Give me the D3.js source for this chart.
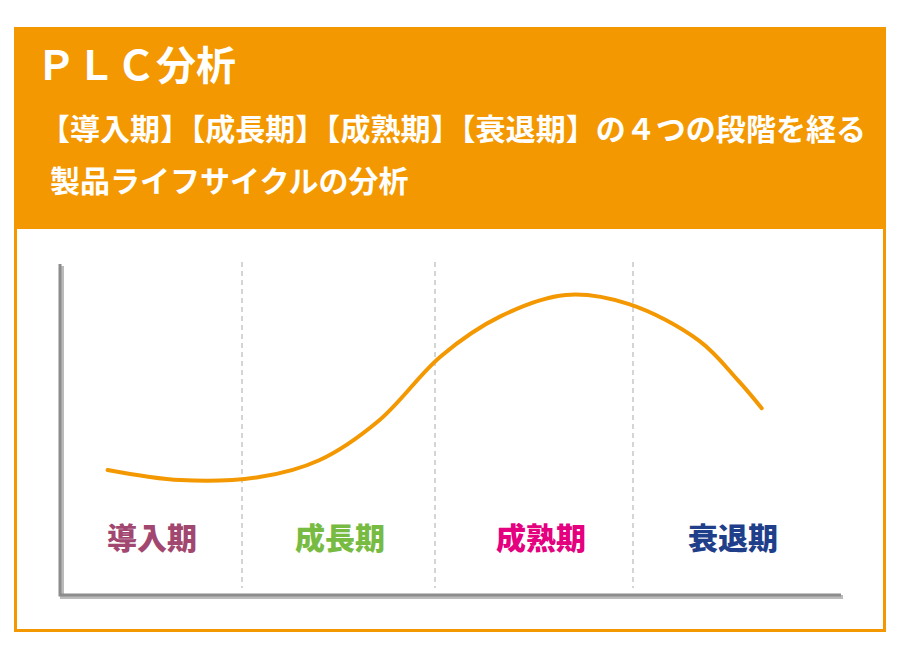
<!DOCTYPE html><html><head><meta charset="utf-8"><script src="https://cdn.jsdelivr.net/npm/d3@7"></script>
<style>body{margin:0;background:#fff}</style></head><body><svg id="c" width="900" height="650"></svg>
<script>
const title = "ＰＬＣ分析";
const subtitle1 = "【導入期】【成長期】【成熟期】【衰退期】の４つの段階を経る";
const subtitle2 = "製品ライフサイクルの分析";
const stages = ["導入期","成長期","成熟期","衰退期"];
const stageColors = ["#a2476f","#78bb42","#e4007f","#1f3f8a"];
const curveT = [0.30,0.68,1.09,1.4,1.71,2.03,2.33,2.66,2.98,3.34,3.54,3.66];
const curveV = [9.8,6.5,7.5,13,26,47,60,67,64,52,39,30];

const svg = d3.select("#c");
const F = "'Noto Sans CJK JP', sans-serif";
const orange = "#f39800";
svg.append("rect").attr("x",15.5).attr("y",28.5).attr("width",869).attr("height",602).attr("fill","#fff").attr("stroke",orange).attr("stroke-width",3);
svg.append("rect").attr("x",14).attr("y",27).attr("width",872).attr("height",202).attr("fill",orange);
svg.append("text").attr("x",36).attr("y",80).attr("fill","#fff").attr("font-family",F).attr("font-weight",700).attr("font-size",40).text(title);
svg.append("text").attr("x",40).attr("y",140).attr("fill","#fff").attr("font-family",F).attr("font-weight",700).attr("font-size",30).attr("textLength",826).text(subtitle1);
svg.append("text").attr("x",50).attr("y",192).attr("fill","#fff").attr("font-family",F).attr("font-weight",700).attr("font-size",30).text(subtitle2);

const y = d3.scaleLinear().domain([0,100]).range([500,194]);
const xs = d3.scaleLinear().domain([0,1,2,3,4]).range([50,242,435,633,828]);

[1,2,3].forEach(b=>svg.append("line").attr("x1",xs(b)).attr("x2",xs(b)).attr("y1",262).attr("y2",588).attr("stroke","#aaa").attr("stroke-dasharray","5,4").attr("stroke-width",1));
svg.append("path").attr("d","M62,266V597H843").attr("fill","none").attr("stroke","#bbb").attr("stroke-width",4);
svg.append("path").attr("d","M60,264V595H841").attr("fill","none").attr("stroke","#8c8c8c").attr("stroke-width",3);

const labelX = [152,340,541,733];
stages.forEach((s,i)=>svg.append("text").attr("x",labelX[i]).attr("y",549).attr("text-anchor","middle")
  .attr("fill",stageColors[i]).attr("font-family",F).attr("font-weight",900).attr("font-size",30).text(s));

const pts = curveT.map((t,i)=>[xs(t),y(curveV[i])]);
svg.append("path").attr("d",d3.line().curve(d3.curveCatmullRom)(pts)).attr("fill","none").attr("stroke",orange).attr("stroke-width",4).attr("stroke-linecap","round");
</script></body></html>
